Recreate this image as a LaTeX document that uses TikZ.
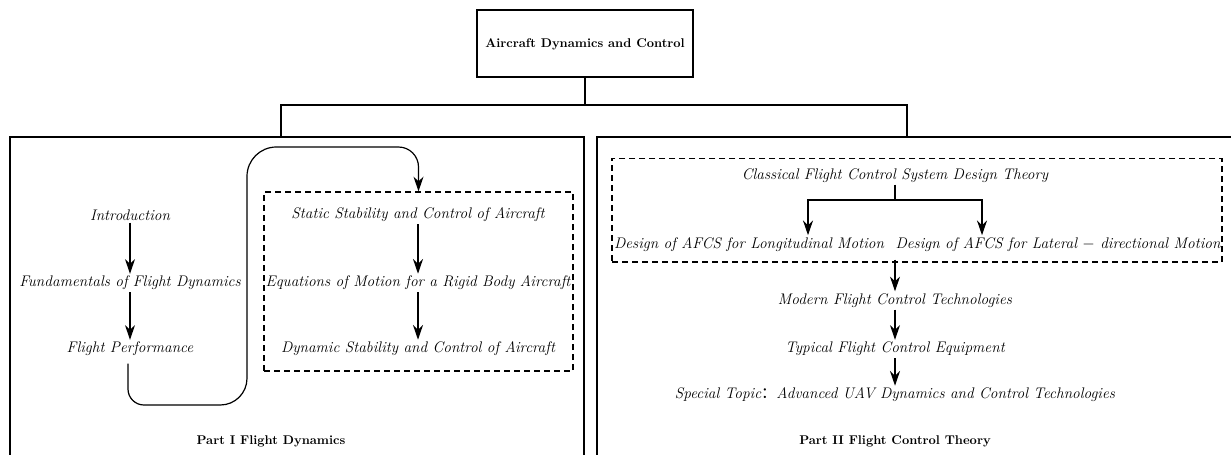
\documentclass[tikz,border=0pt]{standalone}
\usepackage{fontspec}
\newfontfamily\cjkfont{Noto Sans CJK SC}
\usetikzlibrary{arrows.meta}
\tikzset{
  x=0.75pt, y=-0.75pt,
  boxline/.style={draw, line width=1.1pt},
  treeline/.style={line width=0.9pt},
  dashbox/.style={draw, line width=1pt, dash pattern=on 4.5pt off 3pt, inner sep=0pt},
  arr/.style={line width=0.9pt, -{Stealth[length=11pt, width=7.5pt, inset=3.5pt]}},
  itlabel/.style={font=\itshape\fontsize{11.5}{13}\selectfont, inner sep=1.5pt},
  bflabel/.style={font=\bfseries\fontsize{9.5}{12}\selectfont, inner sep=1pt},
}
\begin{document}
\begin{tikzpicture}
\useasboundingbox (0,0) rectangle (1231,454);
\clip (0,0) rectangle (1231,454);
% top node
\node[boxline, bflabel, minimum width=162pt, minimum height=50pt, text depth=-3.5pt] (top) at (585,43.5) {Aircraft Dynamics and Control};
% part boxes
\draw[boxline] (10,137) rectangle (584,470);
\draw[boxline] (597,137) rectangle (1250,470);
\coordinate (p1top) at (281,137);
\coordinate (p2top) at (907,137);
\coordinate (bus) at (585,105);
\draw[treeline] (top.south) -- (bus);
\draw[treeline] (p1top) |- (bus) -| (p2top);

% ---- Part I
\node[itlabel] (intro) at (130,215) {Introduction};
\node[itlabel] (fund) at (130,283) {Fundamentals of Flight Dynamics};
\node[itlabel] (perf) at (130,349) {Flight Performance};
\node[itlabel] (stat) at (418,215) {Static Stability and Control of Aircraft};
\node[itlabel] (eqm) at (418,283) {Equations of Motion for a Rigid Body Aircraft};
\node[itlabel] (dyn) at (418,349) {Dynamic Stability and Control of Aircraft};
\node[dashbox, minimum width=231.75pt, minimum height=134.25pt] (g1) at (418.5,281.5) {};
\node[bflabel] (part1) at (271,441) {Part I Flight Dynamics};
\draw[arr] (intro.south) -- (fund.north);
\draw[arr] (fund.south) -- (perf.north);
\draw[arr] (stat.south) -- (eqm.north);
\draw[arr] (eqm.south) -- (dyn.north);
\draw[arr] ([xshift=-1.5pt, yshift=-4pt]perf.south) [rounded corners=12pt] -- (128,405) [rounded corners=20pt] -- (247,405) [rounded corners=22pt] -- (247,147) [rounded corners=15pt] -- (g1.north |- 0,147) -- (g1.north);

% ---- Part II
\node[itlabel] (cls) at (895,175.5) {Classical Flight Control System Design Theory};
\node[itlabel] (lon) at (749,244.5) {Design of AFCS for Longitudinal Motion};
\node[itlabel] (lat) at (1058,244.5) {Design of AFCS for Lateral $-$ directional Motion};
\node[dashbox, minimum width=457.5pt, minimum height=77.6pt] (g2) at (917,210.25) {};
\node[itlabel] (mod) at (895,300.5) {Modern Flight Control Technologies};
\node[itlabel] (typ) at (895,349) {Typical Flight Control Equipment};
\node[itlabel] (spc) at (895,395) {Special Topic{\cjkfont ：}Advanced UAV Dynamics and Control Technologies};
\node[bflabel] (part2) at (895,441) {Part II Flight Control Theory};
\coordinate (fork) at (895,200);
\draw[treeline] (cls.south) -- (fork);
\draw[arr] (fork) -| ([xshift=44.25pt]lon.north);
\draw[arr] (fork) -| ([xshift=-57pt]lat.north);
\draw[arr] (g2.south -| mod.north) ++(0,-3) -- (mod.north);
\draw[arr] (mod.south) -- (typ.north);
\draw[arr] (typ.south) -- (spc.north);
\end{tikzpicture}
\end{document}
